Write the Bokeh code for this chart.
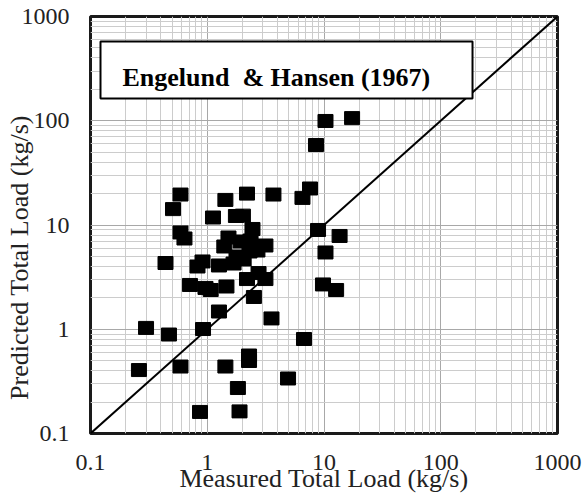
from bokeh.plotting import figure
from bokeh.models import FixedTicker, Label, BoxAnnotation, ColumnDataSource
from bokeh.embed import file_html
from bokeh.resources import INLINE

# ---- data (kg/s) ----
measured = [0.590, 0.509, 1.43, 2.19, 3.69, 1.12, 1.76, 2.02, 2.44, 0.590,
            0.638, 1.52, 1.40, 1.93, 2.35, 3.15, 1.78, 2.30, 2.05, 2.69,
            0.439, 0.825, 0.911, 1.26, 1.68, 0.711, 0.966, 1.07, 1.46, 2.19,
            2.75, 3.15, 2.51, 1.26, 3.55, 0.299, 0.470, 0.920, 2.28, 2.28,
            0.260, 0.590, 1.43, 4.92, 1.83, 0.867, 1.89, 10.3, 17.4, 8.54,
            7.59, 6.54, 8.89, 13.6, 10.3, 9.80, 12.7, 6.74]
predicted = [19.6, 14.2, 17.4, 20.0, 19.6, 11.8, 12.2, 12.3, 9.16, 8.48,
             7.42, 7.59, 6.22, 6.95, 7.10, 6.36, 4.99, 5.57, 4.67, 5.69,
             4.32, 4.00, 4.47, 4.09, 4.27, 2.66, 2.49, 2.38, 2.57, 3.03,
             3.46, 3.03, 2.04, 1.48, 1.27, 1.03, 0.890, 1.005, 0.560, 0.496,
             0.406, 0.439, 0.439, 0.337, 0.273, 0.161, 0.163, 99.5, 106.0, 58.5,
             22.4, 18.2, 8.96, 7.85, 5.45, 2.69, 2.38, 0.806]
line_x = [0.1, 1000]
line_y = [0.1, 1000]
major_ticks = [0.1, 1, 10, 100, 1000]
tick_labels = ["0.1", "1", "10", "100", "1000"]
title_text = "Engelund\u00a0 & Hansen (1967)"
x_title = "Measured Total Load (kg/s)"
y_title = "Predicted Total Load (kg/s)"

minor_ticks = [m * d for d in (0.1, 1, 10, 100) for m in range(2, 10)]

FONT = "Liberation Serif"

p = figure(width=585, height=497, x_axis_type="log", y_axis_type="log",
           x_range=(0.1, 1000), y_range=(0.1, 1000),
           output_backend="svg", toolbar_location=None,
           min_border_left=90, min_border_right=28,
           min_border_top=16, min_border_bottom=64)
p.background_fill_color = "white"
p.border_fill_color = "white"
p.outline_line_color = "#1a1a1a"
p.outline_line_width = 3

for ax in (p.xaxis, p.yaxis):
    ax.ticker = FixedTicker(ticks=major_ticks, minor_ticks=minor_ticks)
    ax.major_label_overrides = {t: s for t, s in zip(major_ticks, tick_labels)}
    ax.axis_line_color = None
    ax.major_tick_line_color = None
    ax.minor_tick_line_color = None
    ax.major_label_text_font = FONT
    ax.major_label_text_font_size = "24px"
    ax.major_label_text_color = "#222222"
    ax.major_label_standoff = 15
    ax.axis_label_text_font = FONT
    ax.axis_label_text_font_size = "26px"
    ax.axis_label_text_font_style = "normal"
    ax.axis_label_text_color = "#222222"

p.xaxis.axis_label = x_title
p.xaxis.axis_label_standoff = -9
# trailing no-break spaces move the rotated title down, as in the reference
p.yaxis.axis_label = y_title + "\u00a0" * 10
p.yaxis.axis_label_standoff = -15

for g in (p.xgrid, p.ygrid):
    g.grid_line_color = "#a8a8a8"
    g.grid_line_width = 1
    g.minor_grid_line_color = "#cccccc"
    g.minor_grid_line_width = 1

p.line(line_x, line_y, line_color="black", line_width=2)

src = ColumnDataSource(dict(x=measured, y=predicted))
p.rect("x", "y", width=15, height=13, width_units="screen", height_units="screen",
       source=src, fill_color="black", line_color="black")

box = BoxAnnotation(left=0.1218, right=187.1, bottom=163.5, top=575.9,
                    fill_color="white", fill_alpha=1.0,
                    line_color="black", line_alpha=1.0, line_width=2)
p.add_layout(box)

p.add_layout(Label(x=0.188, y=261.7, text=title_text, text_font=FONT,
                   text_font_size="26px", text_font_style="bold",
                   text_color="black", text_align="left",
                   text_baseline="alphabetic"))

open("out.html", "w").write(file_html(p, INLINE))
